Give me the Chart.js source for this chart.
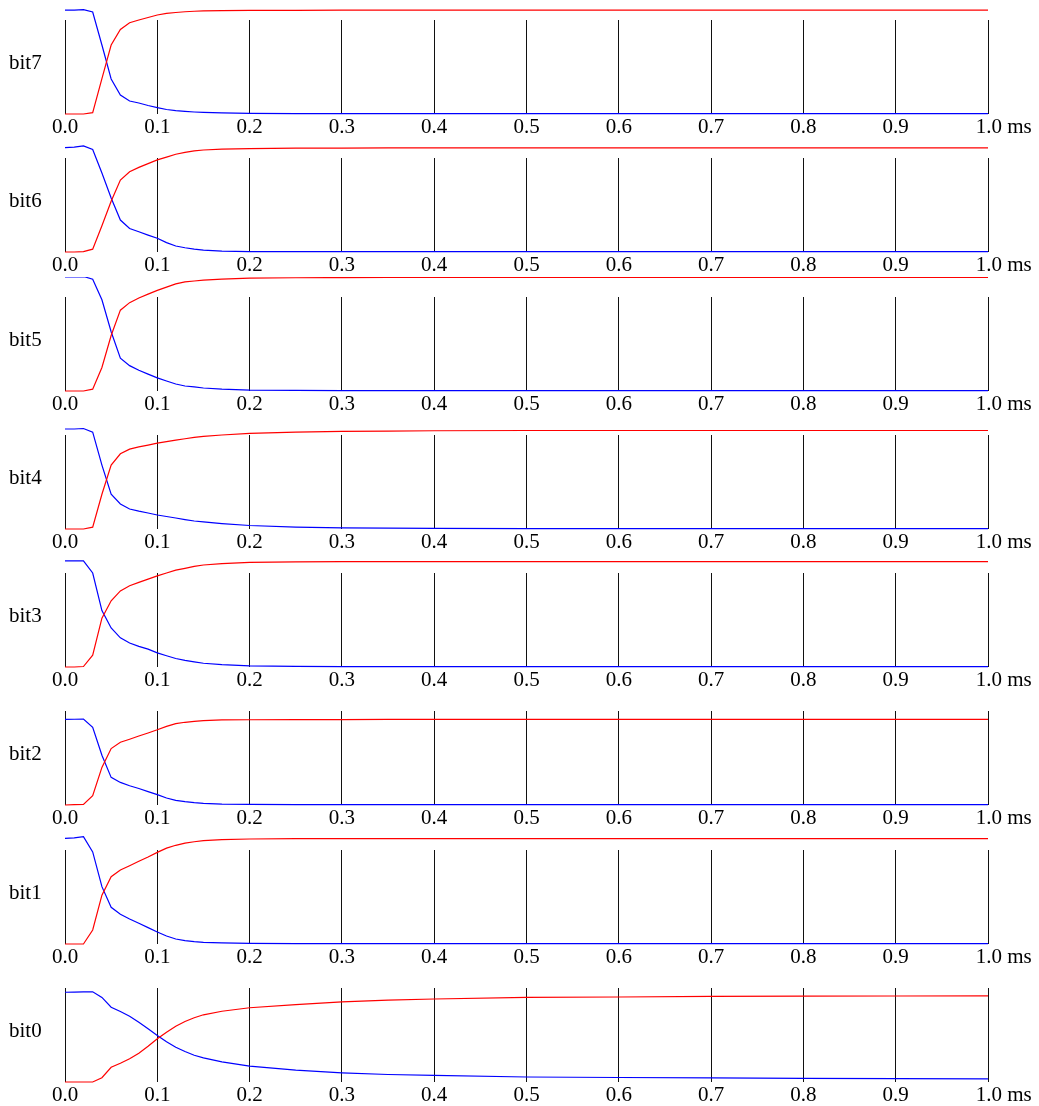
<!DOCTYPE html>
<html><head><meta charset="utf-8">
<script src="https://cdn.jsdelivr.net/npm/chart.js@4"></script>
<style>
html,body{margin:0;padding:0;background:#fff;}
#wrap{position:relative;width:1039px;height:1106px;overflow:hidden;background:#fff;}
#wrap canvas{position:absolute;left:0;}
</style></head><body><div id="wrap"></div>
<script>
// time samples (ms)
const times = [0,0.01,0.02,0.03,0.04,0.05,0.06,0.07,0.08,0.09,0.10,0.11,0.12,0.13,0.14,0.15,0.17,0.20,0.25,0.30,0.35,0.40,0.50,0.60,0.70,0.80,0.90,1.00];
const panelNames = ['bit7','bit6','bit5','bit4','bit3','bit2','bit1','bit0'];
const xTickValues = [0,0.1,0.2,0.3,0.4,0.5,0.6,0.7,0.8,0.9,1.0];
const xTickLabels = ['0.0','0.1','0.2','0.3','0.4','0.5','0.6','0.7','0.8','0.9','      1.0 ms'];

const bit7Blue = [1.106,1.106,1.11,1.085,0.734,0.372,0.202,0.138,0.117,0.09,0.067,0.048,0.035,0.027,0.021,0.017,0.011,0.007,0.005,0.004,0.004,0.003,0.003,0.003,0.003,0.003,0.003,0.003];
const bit7Red  = [0,0,0,0.014,0.376,0.734,0.9,0.971,1.0,1.027,1.053,1.07,1.08,1.088,1.093,1.097,1.1,1.102,1.103,1.104,1.104,1.105,1.105,1.105,1.105,1.105,1.105,1.105];

const bit6Blue = [1.11,1.115,1.128,1.09,0.84,0.575,0.34,0.25,0.215,0.18,0.146,0.1,0.064,0.045,0.03,0.02,0.01,0.005,0.004,0.003,0.003,0.003,0.003,0.003,0.003,0.003,0.003,0.003];
const bit6Red  = [0,0,0.005,0.03,0.28,0.54,0.766,0.854,0.9,0.94,0.98,1.01,1.04,1.06,1.075,1.085,1.095,1.1,1.104,1.106,1.107,1.107,1.107,1.107,1.107,1.107,1.107,1.107];

const bit5Blue = [1.213,1.213,1.218,1.19,0.97,0.63,0.35,0.27,0.22,0.18,0.14,0.106,0.074,0.053,0.043,0.032,0.02,0.01,0.007,0.005,0.004,0.004,0.004,0.004,0.004,0.004,0.004,0.004];
const bit5Red  = [0,0,0,0.02,0.25,0.59,0.86,0.94,0.99,1.03,1.07,1.105,1.14,1.16,1.17,1.18,1.19,1.2,1.205,1.207,1.208,1.209,1.209,1.209,1.209,1.209,1.209,1.209];

const bit4Blue = [1.064,1.064,1.069,1.03,0.68,0.37,0.266,0.213,0.19,0.17,0.149,0.133,0.117,0.1,0.085,0.075,0.058,0.037,0.021,0.013,0.009,0.007,0.005,0.005,0.005,0.005,0.005,0.005];
const bit4Red  = [0,0,0,0.02,0.37,0.68,0.8,0.85,0.873,0.893,0.913,0.93,0.945,0.96,0.975,0.985,1.0,1.018,1.03,1.038,1.042,1.045,1.048,1.048,1.048,1.048,1.048,1.048];

const bit3Blue = [1.128,1.128,1.13,1.0,0.6,0.415,0.31,0.255,0.22,0.19,0.15,0.12,0.09,0.07,0.055,0.04,0.025,0.012,0.007,0.005,0.005,0.004,0.004,0.004,0.004,0.004,0.004,0.004];
const bit3Red  = [0,0,0.005,0.125,0.52,0.705,0.81,0.865,0.9,0.935,0.97,1.0,1.03,1.05,1.07,1.085,1.1,1.112,1.118,1.12,1.121,1.122,1.122,1.122,1.122,1.122,1.122,1.122];

const bit2Blue = [0.91,0.912,0.915,0.826,0.53,0.294,0.24,0.205,0.175,0.143,0.11,0.074,0.05,0.035,0.025,0.018,0.01,0.007,0.005,0.004,0.004,0.004,0.004,0.004,0.004,0.004,0.004,0.004];
const bit2Red  = [0,0.003,0.007,0.1,0.4,0.6,0.667,0.7,0.734,0.766,0.8,0.837,0.865,0.88,0.89,0.898,0.905,0.907,0.908,0.909,0.91,0.91,0.91,0.91,0.91,0.91,0.91,0.91];

const bit1Blue = [1.124,1.13,1.142,0.98,0.61,0.39,0.316,0.266,0.22,0.174,0.128,0.085,0.053,0.035,0.025,0.018,0.011,0.007,0.005,0.004,0.004,0.004,0.004,0.004,0.004,0.004,0.004,0.004];
const bit1Red  = [0,0,0,0.149,0.52,0.716,0.787,0.833,0.88,0.926,0.975,1.02,1.05,1.074,1.088,1.1,1.11,1.117,1.12,1.121,1.122,1.122,1.122,1.122,1.122,1.122,1.122,1.122];

const bit0Blue = [0.955,0.956,0.958,0.96,0.9,0.796,0.75,0.7,0.636,0.566,0.495,0.428,0.37,0.324,0.285,0.257,0.215,0.168,0.126,0.098,0.08,0.07,0.053,0.048,0.043,0.038,0.036,0.034];
const bit0Red  = [0,0,0,0,0.045,0.157,0.2,0.247,0.306,0.38,0.46,0.53,0.594,0.644,0.683,0.715,0.753,0.79,0.824,0.853,0.87,0.883,0.9,0.904,0.91,0.913,0.915,0.917];

const blueSeries = [bit7Blue,bit6Blue,bit5Blue,bit4Blue,bit3Blue,bit2Blue,bit1Blue,bit0Blue];
const redSeries  = [bit7Red,bit6Red,bit5Red,bit4Red,bit3Red,bit2Red,bit1Red,bit0Red];

const FONT = {family:"'Liberation Serif','Times New Roman',serif", size:21};
const LABEL_LEVEL = 0.54;
const wrap = document.getElementById('wrap');

panelNames.forEach((name, i) => {
  const cv = document.createElement('canvas');
  cv.width = 1039; cv.height = 138;
  cv.style.width = '1039px'; cv.style.height = '138px';
  cv.style.top = Math.round(i * 138.25) + 'px';
  wrap.appendChild(cv);
  const toPts = arr => times.map((t, k) => ({x: t, y: arr[k]}));
  new Chart(cv.getContext('2d'), {
    type: 'line',
    data: {
      datasets: [
        {data: toPts(redSeries[i]), borderColor: '#ff0000', borderWidth: 1.2, pointRadius: 0, tension: 0, clip: false, fill: false},
        {data: toPts(blueSeries[i]), borderColor: '#0000ff', borderWidth: 1.2, pointRadius: 0, tension: 0, clip: false, fill: false}
      ]
    },
    options: {
      responsive: false,
      animation: false,
      events: [],
      layout: {padding: {left: 9, right: 51, top: 20, bottom: 0}},
      plugins: {legend: {display: false}, tooltip: {enabled: false}},
      scales: {
        x: {
          type: 'linear', min: 0, max: 1,
          afterBuildTicks: s => { s.ticks = xTickValues.map(v => ({value: v})); },
          afterFit: s => { s.height = 24; },
          grid: {color: '#111', lineWidth: 1, drawTicks: false},
          border: {display: false},
          ticks: {color: '#000', font: FONT, padding: 1, maxRotation: 0, autoSkip: false,
                  callback: (v, idx) => xTickLabels[idx]}
        },
        y: {
          type: 'linear', min: 0, max: 1,
          afterBuildTicks: s => { s.ticks = [{value: LABEL_LEVEL}]; },
          afterFit: s => { s.width = 56; },
          grid: {display: false},
          border: {display: false},
          ticks: {color: '#000', font: FONT, crossAlign: 'far', padding: 0, callback: () => name}
        }
      }
    }
  });
});
</script></body></html>
